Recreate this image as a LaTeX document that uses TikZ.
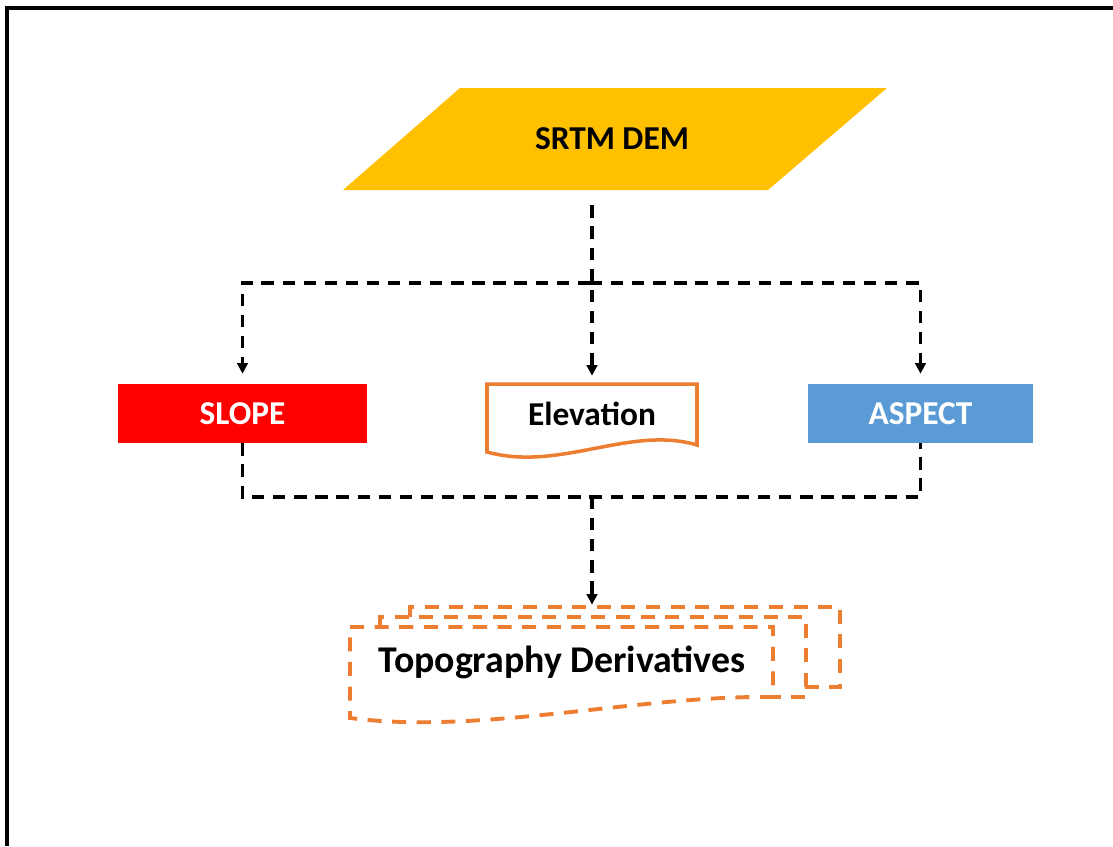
\documentclass[tikz,border=0pt]{standalone}
\usepackage{fontspec}
\setmainfont{Carlito}
\usetikzlibrary{arrows.meta}
\definecolor{demyellow}{HTML}{FFC000}
\definecolor{slopered}{HTML}{FF0000}
\definecolor{aspectblue}{HTML}{5B9BD5}
\definecolor{docorange}{HTML}{ED7D31}

\begin{document}
\begin{tikzpicture}[x=0.02cm, y=-0.02cm,
  link/.style={line width=2pt, dash pattern=on 7pt off 5pt},
  flow/.style={link, -{Triangle[length=6pt,width=6pt]}, shorten >=0.2cm},
  lbl/.style={font=\bfseries\fontsize{19}{23}\selectfont, inner sep=0pt},
  box/.style={lbl, text=white, minimum height=1.18cm},
  docdash/.style={draw=docorange, line width=2.2pt, dash pattern=on 8pt off 6pt}]
\useasboundingbox (0,0) rectangle (1113,846);
\draw[line width=2.2pt] (1113,8) -- (7,8) -- (7,846);

\fill[demyellow] (460,88) -- (887,88) -- (768,190) -- (343,190) -- cycle;
\node[lbl, minimum height=2.04cm] (dem) at (612,139) {SRTM DEM};

\node[box, fill=slopered, minimum width=4.98cm] (slope) at (242.5,413.5) {SLOPE};
\node[box, fill=aspectblue, minimum width=4.5cm] (aspect) at (920.5,413.5) {ASPECT};
\draw[docorange, line width=2pt] (487,384) -- (697,384) -- (697,445)
  .. controls (630,425) and (560,472) .. (487,452) -- cycle;
\node[lbl, minimum width=4.2cm, minimum height=1.2cm] (elev) at (592,414) {Elevation};

\draw[docdash] (410,617) |- (840,607) |- (805,687);
\draw[docdash] (380,627) |- (806,617) |- (773,697);
\draw[docdash] (350,627) -- (773,627) -- (773,697)
  .. controls (640,695) and (480,735) .. (350,718) -- cycle;
\node[minimum width=9.8cm, minimum height=2.4cm] (topo) at (592,665) {};
\node[lbl, font=\bfseries\fontsize{21.5}{25}\selectfont] (topotext) at (562,662) {Topography Derivatives};

\coordinate (split) at (590,283);
\coordinate (join) at (592,497);
\draw[flow, shorten <=0.3cm, shorten >=0.16cm] (dem.south -| elev.north) -- (elev.north);
\draw[flow] (split) -| (slope.north);
\draw[flow] (split) -| (aspect.north);
\draw[link] (slope.south) -- (slope.south |- join) -- (aspect.south |- join) -- (aspect.south);
\draw[flow, shorten >=0pt] (join) -- (topo.north);
\end{tikzpicture}
\end{document}
